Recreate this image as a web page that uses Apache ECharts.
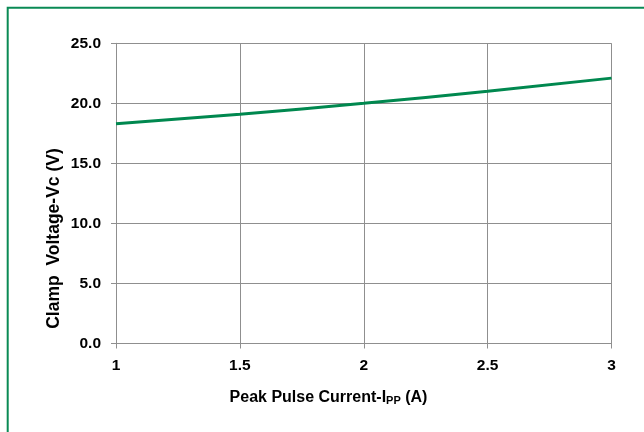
<!DOCTYPE html>
<html>
<head>
<meta charset="utf-8">
<script src="https://cdn.jsdelivr.net/npm/echarts@6/dist/echarts.min.js"></script>
<style>
html,body{margin:0;padding:0;background:#fff;}
#chart{width:644px;height:432px;}
</style>
</head>
<body>
<div id="chart"></div>
<script>
// Data
var currentA = [1, 1.5, 2, 2.5, 3];
var clampV = [18.3, 19.1, 20.0, 21.0, 22.1];
var xTitle = 'Peak Pulse Current-I';
var xTitleSub = 'PP';
var xTitleEnd = ' (A)';
var yTitle = 'Clamp  Voltage-Vc (V)';

var chart = echarts.init(document.getElementById('chart'));
var font = 'Liberation Sans, Arial, sans-serif';
var gridColor = '#8f8f8f';
var green = '#00884f';

chart.setOption({
  animation: false,
  backgroundColor: '#fff',
  grid: { left: 116, right: 32.5, top: 43.3, bottom: 88.5 },
  xAxis: {
    type: 'value', min: 1, max: 3, interval: 0.5,
    axisLine: { show: true, lineStyle: { color: gridColor, width: 1 } },
    axisTick: { show: true, length: 5, lineStyle: { color: gridColor } },
    splitLine: { show: true, lineStyle: { color: gridColor, width: 1 } },
    axisLabel: { color: '#000', fontFamily: font, fontWeight: 'bold', fontSize: 15.5, margin: 14 }
  },
  yAxis: {
    type: 'value', min: 0, max: 25, interval: 5,
    axisLine: { show: true, lineStyle: { color: gridColor, width: 1 } },
    axisTick: { show: true, length: 5, lineStyle: { color: gridColor } },
    splitLine: { show: true, lineStyle: { color: gridColor, width: 1 } },
    axisLabel: { color: '#000', fontFamily: font, fontWeight: 'bold', fontSize: 15.5, margin: 15,
      formatter: function (v) { return v.toFixed(1); } }
  },
  series: [{
    type: 'line',
    data: currentA.map(function (x, i) { return [x, clampV[i]]; }),
    smooth: true,
    showSymbol: false,
    lineStyle: { color: green, width: 3 }
  }],
  graphic: [
    {
      type: 'polyline', silent: true,
      shape: { points: [[644, 7.7], [7.7, 7.7], [7.7, 432]] },
      style: { stroke: '#0a8a55', lineWidth: 2, fill: null }
    },
    {
      type: 'text',
      x: 328.5, y: 398,
      style: {
        text: '{a|' + xTitle + '}{s|' + xTitleSub + '}{a|' + xTitleEnd + '}',
        align: 'center', verticalAlign: 'middle',
        rich: {
          a: { fontFamily: font, fontWeight: 'bold', fontSize: 16, fill: '#000' },
          s: { fontFamily: font, fontWeight: 'bold', fontSize: 11, fill: '#000', padding: [5, 0, 0, 0] }
        }
      }
    },
    {
      type: 'text',
      x: 54, y: 238.5,
      rotation: Math.PI / 2,
      style: {
        text: yTitle, fontFamily: font, fontWeight: 'bold', fontSize: 17.5, fill: '#000',
        align: 'center', verticalAlign: 'middle'
      }
    }
  ]
});
</script>
</body>
</html>
